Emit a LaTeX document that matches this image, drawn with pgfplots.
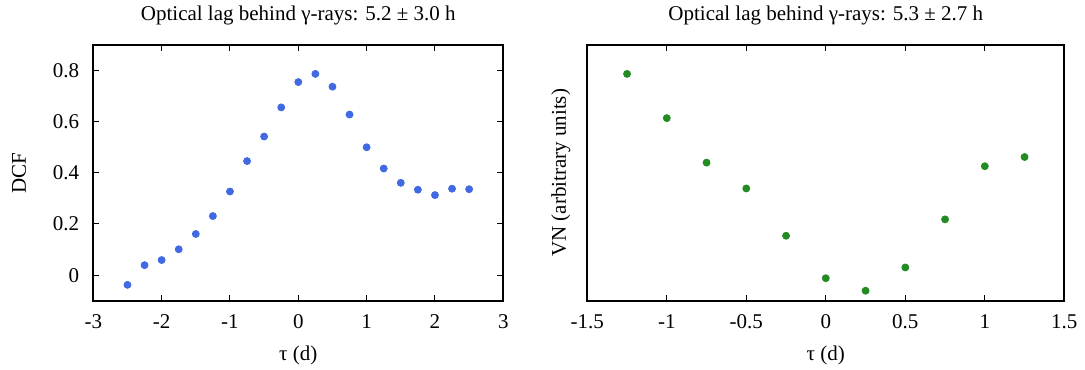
\documentclass[border=0pt]{standalone}
\usepackage{fontspec}
\setmainfont{Liberation Serif}
\usepackage{pgfplots}
\pgfplotsset{compat=1.18}
\definecolor{dcfblue}{RGB}{65,105,225}
\definecolor{vngreen}{RGB}{34,139,34}
\begin{document}
\begin{tikzpicture}[font=\fontsize{10.5}{12}\selectfont]
\path[use as bounding box] (-46.65pt,-34.15pt) rectangle (495.85pt,150.35pt);
\pgfplotsset{
  every axis/.append style={
    scale only axis,
    height=127.85pt,
    axis line style={line width=0.9pt},
    tick style={black, line width=0.5pt},
    tick align=inside,
    major tick length=3pt,
    /pgf/number format/assume math mode=true,
    xlabel style={at={(axis description cs:0.5,0)}, anchor=base, yshift=-29.7pt},
    x tick label style={anchor=base, yshift=-13.9pt},
    every tick label/.append style={font=\fontsize{10.5}{12}\selectfont},
    clip=false,
  }
}
\begin{axis}[
  at={(0pt,0pt)}, anchor=south west,
  width=205pt,
  xmin=-3, xmax=3, ymin=-0.1, ymax=0.9,
  xtick={-3,-2,...,3},
  ytick={0,0.2,0.4,0.6,0.8},
  yticklabel style={/pgf/number format/fixed, /pgf/number format/precision=1},
  y tick label style={anchor=east, xshift=-3.5pt},
  xlabel={τ (d)},
  ylabel={DCF},
  ylabel style={at={(axis description cs:0,0.5)}, anchor=center, rotate=0, yshift=37.1pt},
]
\addplot[only marks, mark=*, mark size=1.75pt, color=dcfblue] coordinates {
(-2.5,-0.038) (-2.25,0.039) (-2.0,0.059) (-1.75,0.101) (-1.5,0.161)
(-1.25,0.231) (-1.0,0.327) (-0.75,0.446) (-0.5,0.542) (-0.25,0.656)
(0,0.755) (0.25,0.787) (0.5,0.737) (0.75,0.628) (1.0,0.500)
(1.25,0.417) (1.5,0.361) (1.75,0.334) (2.0,0.313) (2.25,0.338) (2.5,0.336)
};
\node[anchor=base, yshift=12.2pt] at (rel axis cs:0.5,1) {Optical lag behind γ-rays: 5.2 ± 3.0 h};
\end{axis}
\begin{axis}[
  at={(247pt,0pt)}, anchor=south west,
  width=238.5pt,
  xmin=-1.5, xmax=1.5, ymin=0, ymax=1,
  xtick={-1.5,-1,-0.5,0,0.5,1,1.5},
  ytick=\empty,
  xlabel={τ (d)},
  ylabel={VN (arbitrary units)},
  ylabel style={at={(axis description cs:0,0.5)}, anchor=center, yshift=13.25pt},
]
\addplot[only marks, mark=*, mark size=1.75pt, color=vngreen] coordinates {
(-1.25,0.887) (-1.0,0.714) (-0.75,0.540) (-0.5,0.439) (-0.25,0.254)
(0,0.088) (0.25,0.039) (0.5,0.130) (0.75,0.318) (1.0,0.526) (1.25,0.562)
};
\node[anchor=base, yshift=12.2pt] at (rel axis cs:0.5,1) {Optical lag behind γ-rays: 5.3 ± 2.7 h};
\end{axis}
\end{tikzpicture}
\end{document}
